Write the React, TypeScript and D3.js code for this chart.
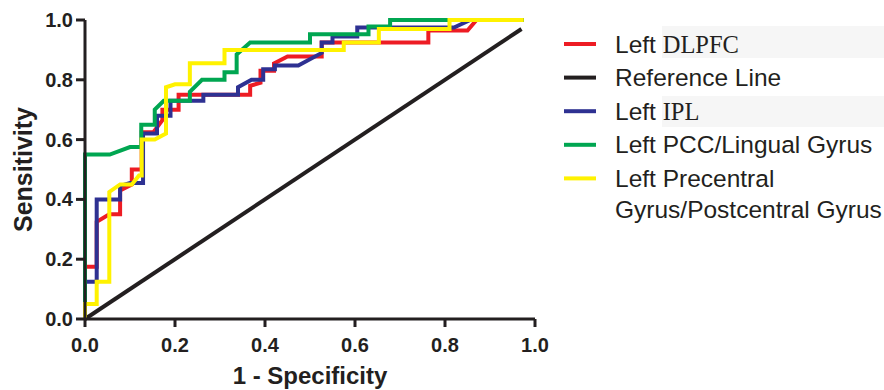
import React from 'react';
import * as d3 from 'd3';

type Pt = [number, number];

// ROC curves: [1 - specificity, sensitivity]
const dlpfc: Pt[] = [
  [0, 0], [0, 0.175], [0.026, 0.175], [0.026, 0.325], [0.054, 0.35], [0.078, 0.35],
  [0.078, 0.43], [0.104, 0.45], [0.104, 0.5], [0.126, 0.5], [0.126, 0.625], [0.152, 0.625],
  [0.172, 0.665], [0.172, 0.7], [0.208, 0.7], [0.208, 0.75], [0.367, 0.75], [0.367, 0.78],
  [0.39, 0.79], [0.39, 0.83], [0.42, 0.83], [0.42, 0.855], [0.45, 0.878], [0.526, 0.878],
  [0.526, 0.925], [0.763, 0.925], [0.763, 0.965], [0.85, 0.965], [0.87, 1], [0.975, 1],
];
const reference: Pt[] = [[0, 0], [0.97, 0.97]];
const ipl: Pt[] = [
  [0, 0], [0, 0.125], [0.026, 0.125], [0.026, 0.4], [0.078, 0.4], [0.078, 0.445],
  [0.1, 0.455], [0.129, 0.455], [0.129, 0.495], [0.129, 0.62], [0.16, 0.62], [0.16, 0.68],
  [0.19, 0.68], [0.19, 0.73], [0.263, 0.73], [0.263, 0.75], [0.34, 0.75], [0.34, 0.775],
  [0.37, 0.8], [0.396, 0.8], [0.396, 0.835], [0.422, 0.835], [0.422, 0.848], [0.474, 0.848],
  [0.526, 0.89], [0.526, 0.925], [0.55, 0.925], [0.55, 0.945], [0.605, 0.945], [0.605, 0.975],
  [0.82, 0.975], [0.856, 1], [0.975, 1],
];
const pcc: Pt[] = [
  [0, 0], [0, 0.55], [0.055, 0.55], [0.1, 0.575], [0.125, 0.575], [0.125, 0.65],
  [0.155, 0.65], [0.155, 0.7], [0.175, 0.73], [0.233, 0.73], [0.233, 0.76], [0.26, 0.8],
  [0.31, 0.8], [0.31, 0.825], [0.337, 0.825], [0.337, 0.885], [0.367, 0.925], [0.5, 0.925],
  [0.5, 0.952], [0.63, 0.952], [0.63, 0.978], [0.678, 0.978], [0.678, 1], [0.975, 1],
];
const precentral: Pt[] = [
  [0, 0], [0, 0.05], [0.026, 0.05], [0.026, 0.125], [0.054, 0.125], [0.054, 0.425],
  [0.078, 0.45], [0.104, 0.45], [0.12, 0.48], [0.126, 0.48], [0.126, 0.6], [0.155, 0.6],
  [0.18, 0.62], [0.18, 0.775], [0.2, 0.785], [0.233, 0.785], [0.233, 0.855], [0.31, 0.855],
  [0.31, 0.9], [0.575, 0.9], [0.575, 0.925], [0.653, 0.925], [0.653, 0.97], [0.81, 0.97],
  [0.81, 1], [0.975, 1],
];

const xTicks = [0, 0.2, 0.4, 0.6, 0.8, 1.0];
const yTicks = [0, 0.2, 0.4, 0.6, 0.8, 1.0];

const series = [
  { pre: 'Left ', name: 'DLPFC', serif: true, color: '#ed1c24', data: dlpfc },
  { pre: 'Reference Line', name: '', serif: false, color: '#231f20', data: reference },
  { pre: 'Left ', name: 'IPL', serif: true, color: '#2e3192', data: ipl },
  { pre: 'Left PCC/Lingual Gyrus', name: '', serif: false, color: '#00a651', data: pcc },
  { pre: 'Left Precentral', name: 'Gyrus/Postcentral Gyrus', serif: false, color: '#fff200', data: precentral },
];

const W = 884;
const H = 390;
const sans = '"Liberation Sans", Arial, sans-serif';
const serif = '"Liberation Serif", "Times New Roman", serif';

export default function App() {
  const x = d3.scaleLinear().domain([0, 1]).range([85, 535]);
  const y = d3.scaleLinear().domain([0, 1]).range([319, 20]);
  const line = d3.line<Pt>().x(d => x(d[0])).y(d => y(d[1]));

  const legendY = (i: number) => 44 + i * 33.6;

  return (
    <div style={{ position: 'absolute', left: 0, top: 0 }}>
      <svg width={W} height={H} style={{ display: 'block', background: '#fff' }}>
        {/* grey boxes behind the pasted serif labels */}
        <rect x={662} y={26} width={222} height={32} fill="#f6f6f6" />
        <rect x={662} y={96} width={222} height={31} fill="#f6f6f6" />

        {series.map((s, i) => (
          <path key={i} d={line(s.data) || ''} fill="none" stroke={s.color}
            strokeWidth={4} strokeLinejoin="miter" />
        ))}

        {/* axes */}
        <g stroke="#231f20" strokeWidth={3} fill="none">
          <line x1={x(0)} x2={x(0)} y1={y(1)} y2={y(0)} />
          <line x1={x(0)} x2={x(1)} y1={y(0)} y2={y(0)} />
          {xTicks.map(t => (
            <line key={'xt' + t} x1={x(t)} x2={x(t)} y1={y(0)} y2={y(0) + 8} />
          ))}
          {yTicks.map(t => (
            <line key={'yt' + t} x1={x(0) - 9} x2={x(0)} y1={y(t)} y2={y(t)} />
          ))}
        </g>
        <g fontFamily={sans} fontWeight="bold" fontSize={20} fill="#231f20">
          {xTicks.map(t => (
            <text key={'xl' + t} x={x(t)} y={352} textAnchor="middle">{d3.format('.1f')(t)}</text>
          ))}
          {yTicks.map(t => (
            <text key={'yl' + t} x={x(0) - 12} y={y(t) + 7} textAnchor="end">{d3.format('.1f')(t)}</text>
          ))}
        </g>
        <text x={310} y={384} textAnchor="middle" fontFamily={sans} fontWeight="bold"
          fontSize={24} fill="#231f20">1 - Specificity</text>
        <text transform={`translate(32,${y(0.5)}) rotate(-90)`} textAnchor="middle"
          fontFamily={sans} fontWeight="bold" fontSize={25} fill="#231f20">Sensitivity</text>

        {/* legend */}
        {series.map((s, i) => (
          <g key={'lg' + i}>
            <line x1={564} x2={596} y1={legendY(i)} y2={legendY(i)} stroke={s.color} strokeWidth={4} />
            <text x={615} y={legendY(i) + 8.5} fontFamily={sans} fontSize={24.5} fill="#231f20">
              {s.serif ? (
                <>
                  {s.pre}
                  <tspan fontFamily={serif}>{s.name}</tspan>
                </>
              ) : s.pre}
            </text>
            {!s.serif && s.name ? (
              <text x={615} y={legendY(i) + 39.5} fontFamily={sans} fontSize={24.5} fill="#231f20">{s.name}</text>
            ) : null}
          </g>
        ))}
      </svg>
    </div>
  );
}
